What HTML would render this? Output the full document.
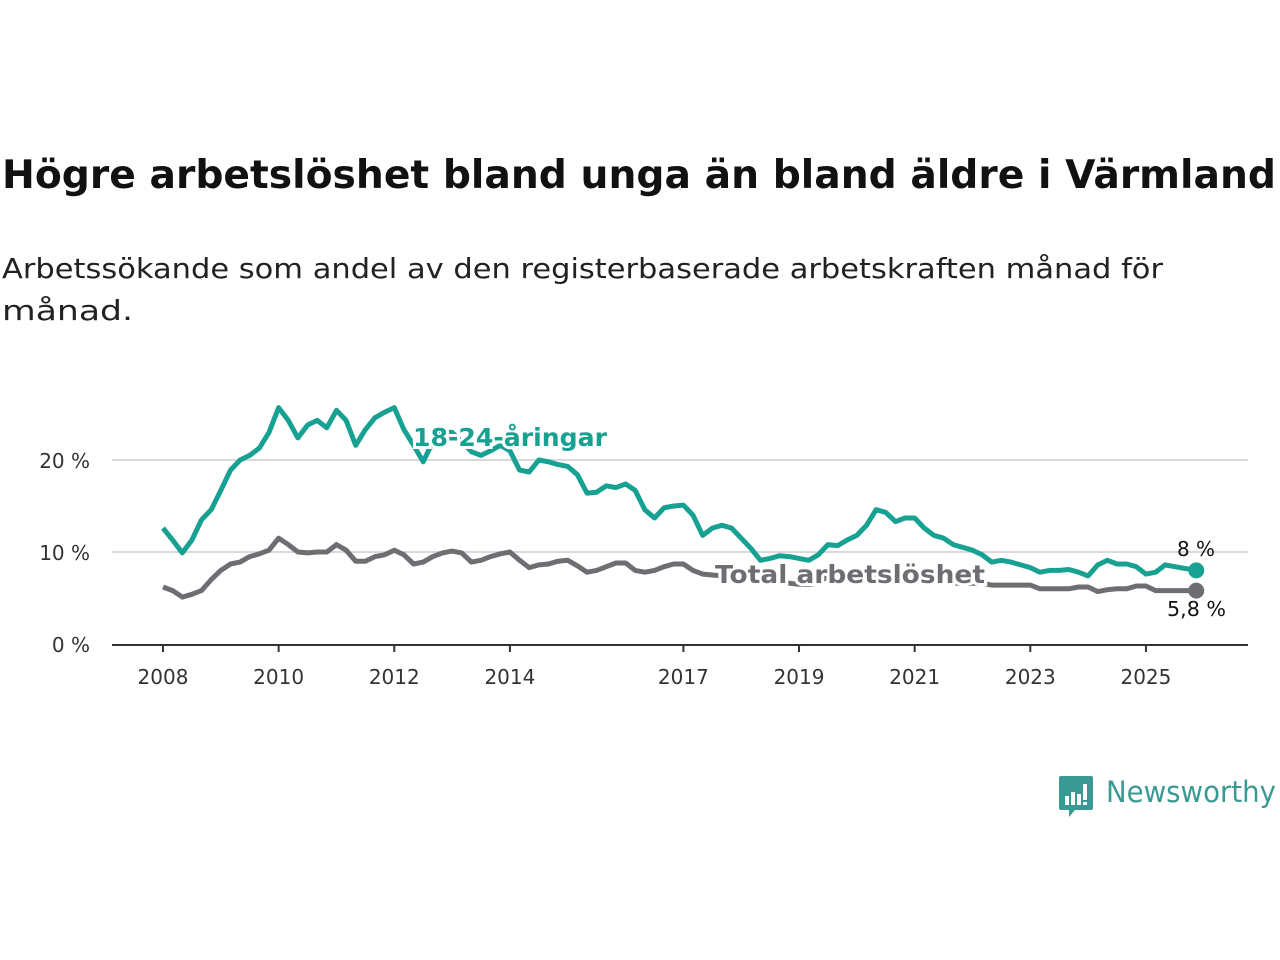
<!DOCTYPE html>
<html><head><meta charset="utf-8">
<style>
body{margin:0;width:1280px;height:960px;background:#fff;overflow:hidden;position:relative}
svg{position:absolute;left:0;top:0}
</style></head><body>
<svg id="chart" width="1280" height="960" font-family="DejaVu Sans, Liberation Sans, sans-serif">
<text x="2" y="188" font-size="39" font-weight="bold" fill="#111" textLength="1274" lengthAdjust="spacingAndGlyphs">Högre arbetslöshet bland unga än bland äldre i Värmland</text>
<text x="2" y="278" font-size="28" fill="#222" textLength="1161" lengthAdjust="spacingAndGlyphs">Arbetssökande som andel av den registerbaserade arbetskraften månad för</text>
<text x="2" y="320" font-size="28" fill="#222" textLength="131" lengthAdjust="spacingAndGlyphs">månad.</text>
<g transform="translate(1059,776)">
<path d="M2 0h30a2 2 0 0 1 2 2v30a2 2 0 0 1-2 2H16l-6 7v-7H2a2 2 0 0 1-2-2V2a2 2 0 0 1 2-2z" fill="#3a9a93"/><rect x="6" y="20" width="4" height="9" fill="#fff"/><rect x="12" y="16" width="4" height="13" fill="#fff"/><rect x="18" y="18" width="4" height="11" fill="#fff"/><rect x="24" y="8" width="4" height="16" fill="#fff"/><rect x="24" y="26" width="4" height="3" fill="#fff"/>
<text x="47" y="26" font-size="29" fill="#3a9a93" textLength="170" lengthAdjust="spacingAndGlyphs">Newsworthy</text>
</g>
</svg>
<script>
const startYear = 2008;
const youth = [12.6,11.3,9.9,11.3,13.5,14.6,16.7,18.9,20,20.5,21.3,23,25.7,24.3,22.4,23.8,24.3,23.5,25.4,24.3,21.6,23.3,24.6,25.2,25.7,23.3,21.6,19.8,22,23,23,22,20.9,20.5,21,21.6,21,18.9,18.7,20,19.8,19.5,19.3,18.4,16.4,16.5,17.2,17,17.4,16.7,14.6,13.7,14.8,15,15.1,14,11.8,12.6,12.9,12.6,11.5,10.4,9.1,9.3,9.6,9.5,9.3,9.1,9.7,10.8,10.7,11.3,11.8,12.9,14.6,14.3,13.3,13.7,13.7,12.6,11.8,11.5,10.8,10.5,10.2,9.7,8.9,9.1,8.9,8.6,8.3,7.8,8.0,8.0,8.1,7.8,7.4,8.6,9.1,8.7,8.7,8.4,7.6,7.8,8.6,8.4,8.0];
const total = [6.2,5.8,5.1,5.4,5.8,7,8.0,8.7,8.9,9.5,9.8,10.2,11.5,10.8,10,9.9,10,10,10.8,10.2,9.0,9.0,9.5,9.7,10.2,9.7,8.7,8.9,9.5,9.9,10.1,9.9,8.9,9.1,9.5,9.8,10,9.1,8.3,8.6,8.7,9.0,9.1,8.5,7.8,8.0,8.4,8.8,8.8,8.0,7.8,8.0,8.4,8.7,8.7,8.0,7.6,7.5,7.4,7.3,7.1,6.9,6.8,6.7,6.6,6.6,6.5,6.5,6.6,7.4,7.6,7.6,7.5,7.3,7.2,7.1,7.0,7.0,6.9,6.8,6.8,6.7,6.6,6.6,6.6,6.6,6.4,6.4,6.4,6.4,6.4,6.0,6.0,6.0,6.0,6.2,6.2,5.7,5.9,6.0,6.0,6.3,6.3,5.8,5.8,5.8,5.8];
const yTicks = [0,10,20];
const yTickLabels = ["0 %","10 %","20 %"];
const xTicks = [2008,2010,2012,2014,2017,2019,2021,2023,2025];
const lastDate = 2025.87;

const NS="http://www.w3.org/2000/svg";
const svg=document.getElementById('chart');
const X=t=>163+(t-2008)*57.82;
const Y=v=>644-v*9.2;
const tAt=i=>i===youth.length-1?lastDate:startYear+i/6;
function mk(tag,attrs,parent){const e=document.createElementNS(NS,tag);for(const k in attrs)e.setAttribute(k,attrs[k]);(parent||svg).appendChild(e);return e;}
yTicks.forEach((v,i)=>{
  if(v>0){const g=mk('line',{x1:112,x2:1248,y1:Y(v),y2:Y(v),stroke:'#d9d9d9','stroke-width':2});
  
  }
  const t=mk('text',{x:90,y:Y(v)+8,'text-anchor':'end','font-size':20,fill:'#333'});
  t.textContent=yTickLabels[i];
  
  
});
const ax=mk('line',{x1:112,x2:1248,y1:645,y2:645,stroke:'#333','stroke-width':2});


xTicks.forEach(yr=>{
  const tk=mk('line',{x1:X(yr),x2:X(yr),y1:645,y2:652,stroke:'#333','stroke-width':2});
  
  
  const t=mk('text',{x:X(yr),y:684,'text-anchor':'middle','font-size':20,fill:'#333'});
  t.textContent=yr;
  
  
});
function line(data,color,name){
  const d=data.map((v,i)=>(i?'L':'M')+X(tAt(i)).toFixed(1)+','+Y(v).toFixed(1)).join('');
  const p=mk('path',{d,fill:'none',stroke:color,'stroke-width':5,'stroke-linejoin':'round'});
  
  
  const c=mk('circle',{cx:X(lastDate),cy:Y(data[data.length-1]),r:8,fill:color});
  
  
}
line(total,'#6e6d72','total-line');
line(youth,'#17a192','youth-line');
function label(txt,x,y,color,name,size,bold,len){
  const t=mk('text',{x,y,'font-size':size,'font-weight':bold?'bold':'normal',fill:color,stroke:'#fff','stroke-width':bold?6:0,'paint-order':'stroke',textLength:len,lengthAdjust:'spacingAndGlyphs'});
  t.textContent=txt;
  
  
}
label('18-24-åringar',413,446,'#17a192','youth-series-label',25,true,194);
label('Total arbetslöshet',715,583,'#6e6d72','total-series-label',25,true,270);
label('8 %',1177,556,'#111','youth-end-value',20,false,38);
label('5,8 %',1167,616,'#111','total-end-value',20,false,59);
</script>
</body></html>
